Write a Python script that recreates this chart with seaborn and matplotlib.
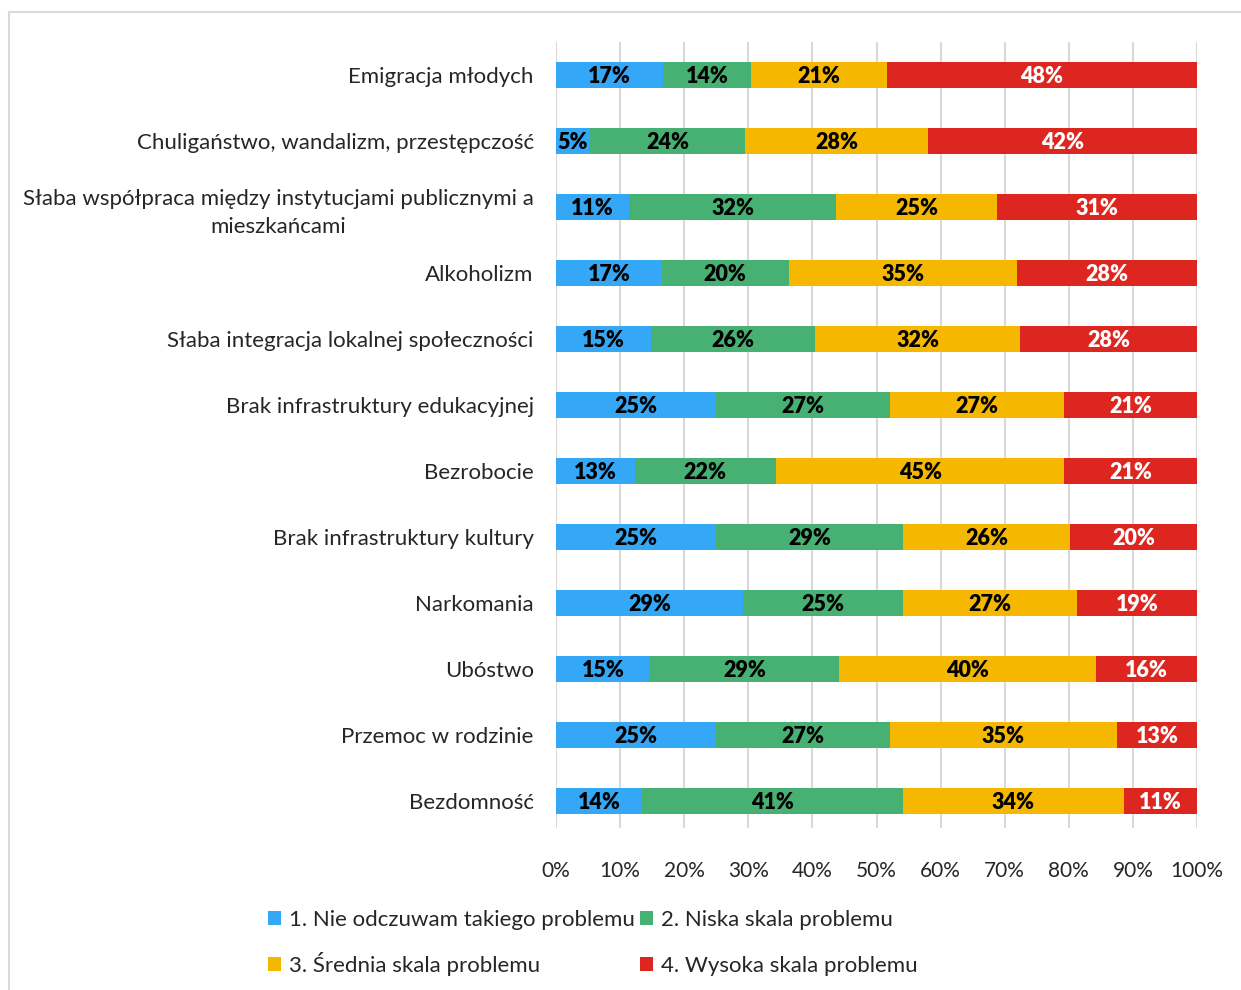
import numpy as np
import pandas as pd
import matplotlib
matplotlib.use("Agg")
import matplotlib.pyplot as plt
from matplotlib.patches import Rectangle, Patch
import seaborn as sns

# Categories (top to bottom)
categories = [
    'Emigracja młodych',
    'Chuligaństwo, wandalizm, przestępczość',
    'Słaba współpraca między instytucjami publicznymi a\nmieszkańcami',
    'Alkoholizm',
    'Słaba integracja lokalnej społeczności',
    'Brak infrastruktury edukacyjnej',
    'Bezrobocie',
    'Brak infrastruktury kultury',
    'Narkomania',
    'Ubóstwo',
    'Przemoc w rodzinie',
    'Bezdomność',
]

series_names = [
    '1. Nie odczuwam takiego problemu',
    '2. Niska skala problemu',
    '3. Średnia skala problemu',
    '4. Wysoka skala problemu',
]

# segment shares (%)
nie_odczuwam = [16.7, 5.3, 11.4, 16.5, 14.8, 25.0, 12.3, 25.0, 29.2, 14.7, 25.0, 13.4]
niska = [13.7, 24.2, 32.3, 19.8, 25.6, 27.1, 22.0, 29.2, 25.0, 29.5, 27.1, 40.7]
srednia = [21.2, 28.5, 25.1, 35.6, 32.0, 27.1, 45.0, 26.1, 27.1, 40.1, 35.4, 34.5]
wysoka = [48.4, 42.0, 31.2, 28.1, 27.6, 20.7, 20.7, 19.8, 18.7, 15.8, 12.5, 11.4]

# printed labels
lab_nie = [17, 5, 11, 17, 15, 25, 13, 25, 29, 15, 25, 14]
lab_niska = [14, 24, 32, 20, 26, 27, 22, 29, 25, 29, 27, 41]
lab_srednia = [21, 28, 25, 35, 32, 27, 45, 26, 27, 40, 35, 34]
lab_wysoka = [48, 42, 31, 28, 28, 21, 21, 20, 19, 16, 13, 11]

colors = ['#35A7F7', '#46B172', '#F5B700', '#DC261F']
label_colors = ['black', 'black', 'black', 'white']

sns.set_theme(style="white")
plt.rcParams['font.family'] = ['Lato', 'DejaVu Sans']

vals = np.array([nie_odczuwam, niska, srednia, wysoka])
labels = [lab_nie, lab_niska, lab_srednia, lab_wysoka]
cum = vals.cumsum(axis=0)
total = cum[-1]
cum = cum / total[None, :] * 100

fig = plt.figure(figsize=(12.41, 9.9), dpi=100)
W, H = 1241, 990
ax = fig.add_axes([556 / W, 1 - 828 / H, (1197 - 556) / W, (828 - 42) / H])

# stacked bars: draw cumulative totals from the longest down
for i in range(3, -1, -1):
    df = pd.DataFrame({'cat': categories, 'val': cum[i]})
    sns.barplot(data=df, x='val', y='cat', orient='h', color=colors[i],
                width=0.4, saturation=1, ax=ax, zorder=3, linewidth=0)

for i in range(4):
    left = cum[i - 1] if i > 0 else np.zeros(len(categories))
    for j in range(len(categories)):
        xc = (left[j] + cum[i][j]) / 2
        ax.text(xc, j, f'{labels[i][j]}%', ha='center', va='center_baseline',
                fontsize=15.5, fontweight='heavy', color=label_colors[i], zorder=5)

ax.set_xlim(0, 100)
ax.set_ylim(11.41, -0.5)
ax.set_xticks(np.arange(0, 101, 10))
ax.set_xticklabels([f'{t}%' for t in range(0, 101, 10)], fontsize=15)
ax.tick_params(axis='y', labelsize=16, length=0, pad=16)
ax.tick_params(axis='x', length=0, pad=24)
for lbl in ax.get_yticklabels():
    lbl.set_horizontalalignment('right')
    lbl.set_multialignment('center')
    lbl.set_linespacing(1.5)
ax.set_xlabel('')
ax.set_ylabel('')
ax.grid(axis='x', color='#D9D9D9', linewidth=1.5, zorder=0)
for s in ax.spines.values():
    s.set_visible(False)

# legend: one entry per box so the rows line up
legend_pos = [(268, 930), (640, 930), (268, 976), (640, 976)]
for k in range(4):
    x, y = legend_pos[k]
    fig.legend([Patch(facecolor=colors[k], edgecolor='none')], [series_names[k]],
               loc='lower left', bbox_to_anchor=(x / W, 1 - y / H),
               frameon=False, fontsize=16, handlelength=0.6, handleheight=0.6,
               handletextpad=0.35, borderpad=0, borderaxespad=0)

fig.patches.append(Rectangle((9 / W, -0.05), 1.2, 1 - 12 / H + 0.05,
                             transform=fig.transFigure, fill=False,
                             edgecolor='#D9D9D9', linewidth=1.5))

fig.savefig('out.png', dpi=100)
